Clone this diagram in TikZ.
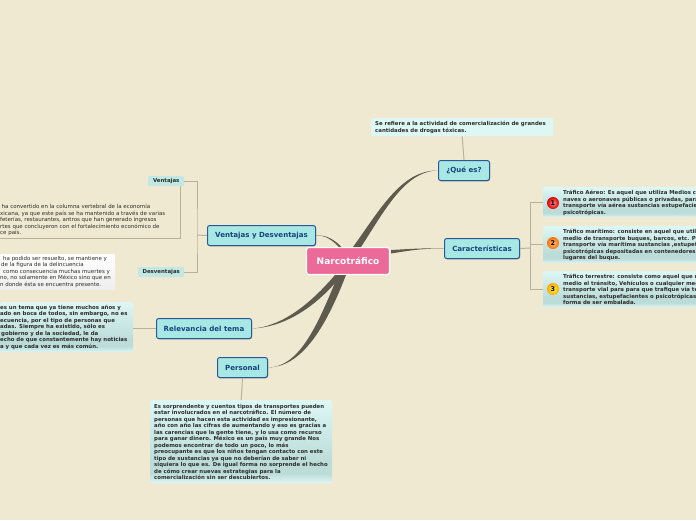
\documentclass[tikz,border=0pt]{standalone}
\usepackage{fontspec}
\setmainfont{DejaVu Sans}
\usetikzlibrary{shadows}
\definecolor{bgc}{HTML}{F0E9D2}
\definecolor{pinkc}{HTML}{EC6A98}
\definecolor{topicfill}{HTML}{A8E8E4}
\definecolor{topicline}{HTML}{2A5A96}
\definecolor{topictext}{HTML}{17437F}
\definecolor{mainline}{HTML}{5E5B4E}
\definecolor{subline}{HTML}{B8B29C}
\definecolor{notetext}{HTML}{2C2C28}
\definecolor{notelight}{HTML}{DDF7F5}
\definecolor{notemid}{HTML}{BCDCDA}
\definecolor{labelfill}{HTML}{C2E8E4}
\pgfdeclareverticalshading{notegrad}{100bp}{color(0bp)=(notelight); color(25bp)=(notelight); color(31bp)=(notemid); color(38bp)=(notemid); color(75bp)=(notelight); color(100bp)=(notelight)}
\tikzset{
 x=1pt,y=-1pt,
 topic/.style={draw=topicline,line width=1pt,rounded corners=2.2pt,fill=topicfill,
   text=topictext,font=\bfseries\fontsize{7.05}{8}\selectfont,inner sep=0pt,anchor=north west,
   drop shadow={shadow xshift=0.5pt,shadow yshift=-0.8pt,opacity=.35,fill=black}},
 notebox/.style={rounded corners=1.5pt,inner sep=0pt,anchor=north west,shading=notegrad},
 flatbox/.style={rounded corners=1.5pt,inner sep=0pt,anchor=north west,fill=notelight},
 label/.style={rounded corners=1pt,fill=labelfill,text=notetext,inner sep=0pt,
   font=\bfseries\fontsize{5.4}{6.5}\selectfont,anchor=north west},
 notetxt/.style={text=notetext,font=\bfseries\fontsize{5.4}{6.5}\selectfont,align=left,
   inner sep=0pt,anchor=north west},
 plaintxt/.style={text=notetext,font=\fontsize{5.47}{6.5}\selectfont,align=left,
   inner sep=0pt,anchor=north west},
 conn/.style={draw=subline,line width=1pt},
 numball/.style={circle,inner sep=0pt,minimum size=12pt,text=black,
   font=\bfseries\fontsize{6.5}{7}\selectfont},
}
\begin{document}
\begin{tikzpicture}
\useasboundingbox (0,0) rectangle (696,520);
\fill[bgc] (0,0) rectangle (696,520);

% note boxes
\node[flatbox,minimum width=182pt,minimum height=18pt] (nque) at (371,118) {};
\node[notebox,minimum width=153pt,minimum height=30pt] (c1) at (543,187) {};
\node[notebox,minimum width=153pt,minimum height=37pt] (c2) at (543,226) {};
\node[notebox,minimum width=153pt,minimum height=36pt] (c3) at (543,271) {};
\node[notebox,minimum width=133pt,minimum height=50pt] (nrel) at (0,302) {};
\node[notebox,minimum width=182pt,minimum height=83pt] (nper) at (150,400) {};
\node[rounded corners=1pt,inner sep=0pt,anchor=north west,top color=white,bottom color=black!7,
  minimum width=115pt,minimum height=36pt] (ndes) at (0,254) {};
\node[label,minimum width=36pt,minimum height=10pt] (lven) at (148,176) {Ventajas};
\node[label,minimum width=46pt,minimum height=10pt] (ldes) at (138,267) {Desventajas};

% topics
\node[draw=white,line width=1.2pt,rounded corners=2.5pt,fill=pinkc,text=white,
  font=\bfseries\fontsize{9}{10}\selectfont,inner sep=0pt,minimum width=83pt,minimum height=27pt]
  (root) at (348,261) {Narcotráfico};
\node[topic,minimum width=75pt,minimum height=20pt] (car) at (444,238) {Características};
\node[topic,minimum width=51pt,minimum height=20pt] (que) at (438,160) {¿Qué es?};
\node[topic,minimum width=108pt,minimum height=20pt] (ven) at (207,225) {Ventajas y Desventajas};
\node[topic,minimum width=95pt,minimum height=20pt] (rel) at (156,318) {Relevancia del tema};
\node[topic,minimum width=50pt,minimum height=20pt] (per) at (217,357) {Personal};

% main tapered connectors
\fill[mainline] (que.west) .. controls (402,170) and (381,208) .. (353,247)
  -- (361,247) .. controls (385,210) and (405,171) .. (que.west) -- cycle;
\fill[mainline] (car.west) .. controls (420,248) and (410,249) .. (391,250)
  -- (391,253.5) .. controls (410,250.5) and (420,248.5) .. (car.west) -- cycle;
\fill[mainline] (ven.east) .. controls (326,235) and (333,241) .. (339,247)
  -- (341.5,247) .. controls (335,240) and (326,234.5) .. (ven.east) -- cycle;
\fill[mainline] (rel.east) .. controls (278,327) and (306,309) .. (335,275)
  -- (342,275) .. controls (312,312) and (280,327.5) .. (rel.east) -- cycle;
\fill[mainline] (per.east) .. controls (298,367) and (316,330) .. (338,275)
  -- (346,275) .. controls (324,332) and (300,367) .. (per.east) -- cycle;

% secondary connectors
\coordinate (vj) at (197,235);
\draw[conn] (ven.west) -- (vj);
\draw[conn] (lven.east) -| (vj) |- (ldes.east);
\coordinate (vtxt) at (0,238.5);
\coordinate (vcorner) at (180,238.5);
\coordinate (vtop) at (180,186);
\draw[conn] (vtop) -- (vcorner) -- (vtxt);
\draw[conn] (nrel.east |- rel.west) -- (rel.west);
\draw[conn] (per.south) -- (nper.north);
\draw[conn] (que.north) -- (nque.south);
\coordinate (cj) at (530,248);
\draw[conn] (car.east) -- (cj);
\draw[conn] (c1.west -| cj) -- (c3.west -| cj);
\draw[conn] (c1.west) -- (c1.west -| cj);
\draw[conn] (c2.west) -- (c2.west -| cj);
\draw[conn] (c3.west) -- (c3.west -| cj);

% numbered circles
\node[numball,inner color=red!45!white,outer color=red!85!black] (b1) at (553,203) {1};
\node[numball,inner color=orange!50!white,outer color=orange!90!red] (b2) at (553,243) {2};
\node[numball,inner color=yellow!70!white,outer color=orange!70!yellow] (b3) at (553,289) {3};

% texts
\node[notetxt] (t1) at (375,121) {Se refiere a la actividad de comercialización de grandes\\cantidades de drogas tóxicas.};
\node[notetxt] (t2) at (563,190) {Tráfico Aéreo: Es aquel que utiliza Medios como\\naves o aeronaves públicas o privadas, para\\transporte vía aérea sustancias estupefacientes y\\psicotrópicas.};
\node[notetxt] (t3) at (563,229) {Tráfico marítimo: consiste en aquel que utiliza como\\medio de transporte buques, barcos, etc. Para\\transporte vía marítima sustancias ,estupefacientes y\\psicotrópicas depositadas en contenedores o\\lugares del buque.};
\node[notetxt] (t4) at (563,274) {Tráfico terrestre: consiste como aquel que utiliza como\\medio el tránsito, Vehículos o cualquier medio de\\transporte vial para para que trafique vía terrestre\\sustancias, estupefacientes o psicotrópicas en\\forma de ser embalada.};
\node[notetxt] (t5) at (0,305) {es un tema que ya tiene muchos años y\\ado en boca de todos, sin embargo, no es\\ecuencia, por el tipo de personas que\\adas. Siempre ha existido, sólo es\\\hspace*{1pt}gobierno y de la sociedad, le da\\echo de que constantemente hay noticias\\a y que cada vez es más común.};
\node[notetxt] (t6) at (154,404) {Es sorprendente y cuentos tipos de transportes pueden\\estar involucrados en el narcotráfico. El número de\\personas que hacen esta actividad es impresionante,\\año con año las cifras de aumentando y eso es gracias a\\las carencias que la gente tiene, y lo usa como recurso\\para ganar dinero. México es un país muy grande Nos\\podemos encontrar de todo un poco, lo más\\preocupante es que los niños tengan contacto con este\\tipo de sustancias ya que no deberían de saber ni\\siquiera lo que es. De igual forma no sorprende el hecho\\de cómo crear nuevas estrategias para la\\comercialización sin ser descubiertos.};
\node[plaintxt] (t7) at (0,204) {\hspace*{1.5pt}ha convertido en la columna vertebral de la economía\\xicana, ya que este país se ha mantenido a través de varias\\feterías, restaurantes, antros que han generado ingresos\\rtes que concluyeron con el fortalecimiento económico de\\ce país.};
\node[plaintxt] (t8) at (0,256) {\hspace*{3pt}ha podido ser resuelto, se mantiene y\\\hspace*{1pt}de la figura de la delincuencia\\\hspace*{3pt}como consecuencia muchas muertes y\\no, no solamente en México sino que en\\n donde ésta se encuentra presente.};
\end{tikzpicture}
\end{document}
